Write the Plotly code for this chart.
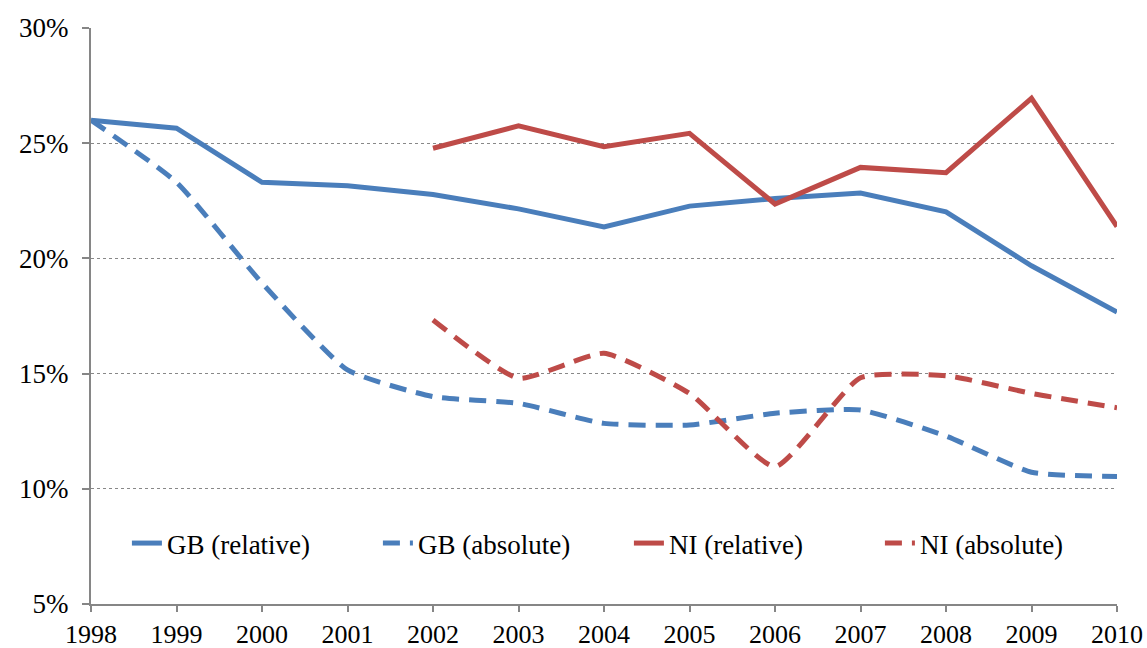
import plotly.graph_objects as go

years = list(range(1998, 2011))
gb_relative = [26.0, 25.65, 23.3, 23.15, 22.77, 22.15, 21.37, 22.27, 22.6, 22.84, 22.02, 19.68, 17.67]
gb_absolute = [26.0, 23.3, 18.93, 15.16, 14.0, 13.71, 12.84, 12.77, 13.28, 13.42, 12.29, 10.72, 10.53]
ni_years = list(range(2002, 2011))
ni_relative = [24.78, 25.75, 24.85, 25.43, 22.36, 23.95, 23.72, 26.95, 21.38]
ni_absolute = [17.33, 14.8, 15.88, 14.14, 10.96, 14.82, 14.91, 14.14, 13.52]

blue = "#4a7ebb"
red = "#be4b48"
font_family = "Liberation Serif, DejaVu Serif, serif"
dash = "17px,10px"

fig = go.Figure()
fig.add_trace(go.Scatter(x=years, y=[v / 100 for v in gb_relative], name="GB (relative)",
                         mode="lines", line=dict(color=blue, width=5)))
fig.add_trace(go.Scatter(x=years, y=[v / 100 for v in gb_absolute], name="GB (absolute)",
                         mode="lines", line=dict(color=blue, width=5, dash=dash, shape="spline", smoothing=0.5)))
fig.add_trace(go.Scatter(x=ni_years, y=[v / 100 for v in ni_relative], name="NI (relative)",
                         mode="lines", line=dict(color=red, width=5)))
fig.add_trace(go.Scatter(x=ni_years, y=[v / 100 for v in ni_absolute], name="NI (absolute)",
                         mode="lines", line=dict(color=red, width=5, dash=dash, shape="spline", smoothing=0.5)))

fig.update_layout(
    width=1147, height=648,
    margin=dict(l=91, r=30, t=28, b=44),
    paper_bgcolor="white", plot_bgcolor="white",
    font=dict(family=font_family, size=27, color="black"),
    showlegend=True,
    legend=dict(orientation="h", x=0.035, xanchor="left", y=0.105, yanchor="middle",
                bgcolor="rgba(0,0,0,0)", font=dict(size=27), itemwidth=30,
                entrywidth=206, traceorder="normal"),
    xaxis=dict(range=[1998, 2010], tickmode="array", tickvals=years,
               ticktext=[str(y) for y in years], automargin=False, tickfont=dict(size=26),
               showgrid=False, zeroline=False, showline=True, linecolor="#868686", linewidth=2,
               ticks="outside", ticklen=6, tickwidth=2, tickcolor="#868686", ticklabelstandoff=0),
    yaxis=dict(range=[0.05, 0.30], tickvals=[0.05, 0.10, 0.15, 0.20, 0.25, 0.30], automargin=False,
               tickformat=".0%", showgrid=True, gridcolor="#888888", griddash="dot", gridwidth=1.3,
               zeroline=False, showline=True, linecolor="#868686", linewidth=2,
               ticks="outside", ticklen=7, tickwidth=2, tickcolor="#868686", ticklabelstandoff=8),
)

fig.write_html("out.html", config={"displayModeBar": False},
               post_script="document.body.style.margin='0';document.body.style.overflow='hidden';")
